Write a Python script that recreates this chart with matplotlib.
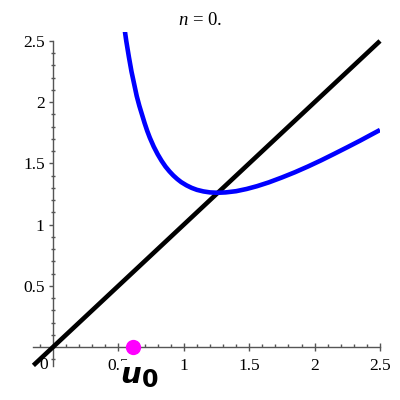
import matplotlib
matplotlib.use("Agg")
import matplotlib.pyplot as plt
from matplotlib.ticker import MultipleLocator, FixedLocator

plt.rcParams["font.family"] = "serif"
plt.rcParams["font.serif"] = ["Liberation Serif", "DejaVu Serif"]
plt.rcParams["mathtext.fontset"] = "custom"
plt.rcParams["mathtext.rm"] = "Liberation Serif"
plt.rcParams["mathtext.it"] = "Liberation Serif:italic"

# data
curve_x = [0.54, 0.56, 0.58, 0.60, 0.62, 0.64, 0.66, 0.68, 0.70, 0.72, 0.74, 0.77,
           0.80, 0.83, 0.86, 0.89, 0.92, 0.95, 0.98, 1.02, 1.06, 1.10, 1.15, 1.20,
           1.26, 1.32, 1.40, 1.48, 1.56, 1.65, 1.75, 1.85, 1.95, 2.05, 2.15, 2.25,
           2.35, 2.43, 2.50]
curve_y = [2.650, 2.500, 2.370, 2.250, 2.150, 2.050, 1.970, 1.900, 1.830, 1.766, 1.710, 1.637,
           1.575, 1.521, 1.474, 1.435, 1.401, 1.372, 1.347, 1.321, 1.300, 1.284, 1.271, 1.263,
           1.260, 1.263, 1.273, 1.291, 1.314, 1.345, 1.385, 1.428, 1.475, 1.525, 1.578, 1.632,
           1.687, 1.733, 1.773]
diag_x = [-0.15, 2.5]
diag_y = [-0.15, 2.5]
u0 = 0.61
x_ticks = [0.5, 1, 1.5, 2, 2.5]
x_labels = ["0.5", "1", "1.5", "2", "2.5"]
y_ticks = [0.5, 1, 1.5, 2, 2.5]
y_labels = ["0.5", "1", "1.5", "2", "2.5"]
title_n = 0

fig = plt.figure(figsize=(4, 4), dpi=100)
ax = fig.add_axes([0.0835, 0.085, 0.8665, 0.834])
ax.set_xlim(-0.15, 2.5)
ax.set_ylim(-0.155, 2.57)

ax.plot(diag_x, diag_y, color="black", lw=3.3, solid_capstyle="butt", zorder=3, clip_on=False)
ax.plot(curve_x, curve_y, color="#0000ff", lw=3.3, solid_capstyle="butt",
        solid_joinstyle="round", zorder=4)
ax.plot([u0], [0], "o", color="#ff00ff", ms=11, mec="none", zorder=8, clip_on=False)

for s in ["top", "right"]:
    ax.spines[s].set_visible(False)
ax.spines["left"].set_position(("data", 0))
ax.spines["bottom"].set_position(("data", 0))
ax.spines["left"].set_bounds(-0.155, 2.5)
ax.spines["bottom"].set_bounds(-0.15, 2.5)
for s in ["left", "bottom"]:
    ax.spines[s].set_color("#555555")
    ax.spines[s].set_linewidth(1.0)

ax.xaxis.set_major_locator(FixedLocator(x_ticks))
ax.set_xticklabels(x_labels, fontsize=12.5)
ax.yaxis.set_major_locator(FixedLocator(y_ticks))
ax.set_yticklabels(y_labels, fontsize=12.5)
ax.xaxis.set_minor_locator(MultipleLocator(0.1))
ax.yaxis.set_minor_locator(MultipleLocator(0.1))
ax.tick_params(axis="x", which="major", direction="inout", length=6, width=1, color="#555555", pad=5)
ax.tick_params(axis="x", which="minor", direction="in", length=2.5, width=1, color="#555555")
ax.tick_params(axis="y", which="major", direction="out", length=3, width=1, color="#555555", pad=3)
ax.tick_params(axis="y", which="minor", direction="inout", length=3, width=1, color="#555555")

ax.text(-0.075, -0.085, "0", fontsize=12.5, ha="center", va="top", zorder=2)

# u0 label
ax.text(u0 + 0.06, -0.29, "u", fontfamily="DejaVu Sans", fontstyle="italic", fontweight="bold",
        fontsize=21, ha="right", va="baseline", zorder=7, clip_on=False,
        bbox=dict(facecolor="white", edgecolor="none", pad=0))
ax.text(u0 + 0.07, -0.33, "0", fontfamily="DejaVu Sans", fontweight="bold",
        fontsize=17, ha="left", va="baseline", zorder=7, clip_on=False)

fig.text(0.5, 1 - 25 / 400, r"$n$ = %d." % title_n, fontsize=13.5,
         ha="center", va="baseline")

fig.savefig("out.png", dpi=100)
